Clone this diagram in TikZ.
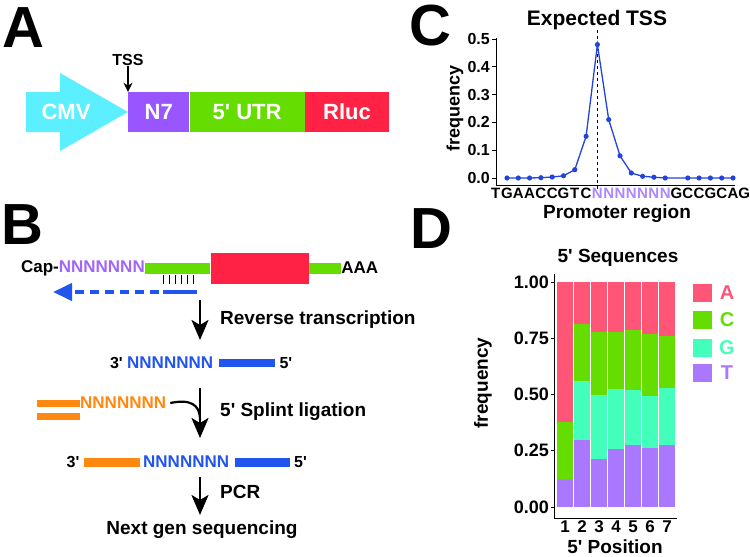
\documentclass[tikz,border=0pt]{standalone}
\usepackage{fontspec}
\setmainfont{Liberation Sans}
\usetikzlibrary{positioning,arrows.meta}
\definecolor{CmvCyan}{HTML}{5BEFFF}
\definecolor{NsevenPurple}{HTML}{9955FF}
\definecolor{UtrGreen}{HTML}{66DD00}
\definecolor{RlucRed}{HTML}{FF2244}
\definecolor{CapPurple}{HTML}{A066F5}
\definecolor{SeqBlue}{HTML}{2255EE}
\definecolor{SplOrange}{HTML}{FF8811}
\definecolor{PlotBlue}{HTML}{2244DD}
\definecolor{NPurple}{HTML}{AA88FF}
\definecolor{BaseA}{HTML}{FF5577}
\definecolor{BaseC}{HTML}{66DD00}
\definecolor{BaseG}{HTML}{44FFBB}
\definecolor{BaseT}{HTML}{AA77FF}
\newcommand{\pr}{\textquotesingle}
\tikzset{
  panel/.style={font=\fontsize{58}{58}\selectfont\bfseries, inner sep=0pt},
  lbl/.style={font=\fontsize{#1}{#1}\selectfont\bfseries, inner sep=0pt},
  seg/.style={rectangle, minimum height=40, inner sep=0pt, text=white,
    font=\fontsize{22}{22}\selectfont\bfseries},
  bar/.style={rectangle, inner sep=0pt, draw=none},
  bigarrow/.style={-{Stealth[length=20pt,width=17pt,inset=5pt]}, line width=2.5pt},
  axisline/.style={line width=1pt}
}
\begin{document}
\begin{tikzpicture}[x=1pt, y=-1pt]
\useasboundingbox (0,0) rectangle (750,557);

% A: construct
\node[panel] (labA) at (23,28) {A};
\fill[CmvCyan] (26,92) -- (60,92) -- (60,73) -- (128,112) -- (60,151) -- (60,132) -- (26,132) -- cycle;
\node[seg] (cmv) at (66,112) {CMV};
\node[seg, fill=NsevenPurple, minimum width=61, anchor=west] (n7) at (128,112) {N7};
\node[seg, fill=UtrGreen, minimum width=115, right=0pt of n7] (utr) {5\pr\ UTR};
\node[seg, fill=RlucRed, minimum width=84, right=0pt of utr] (rluc) {Rluc};
\node[lbl=16] (tss) at (128,60) {TSS};
\draw[-{Stealth[length=9pt,width=9pt]}, line width=1.6pt] (tss) -- (n7.north west);

% B: library prep
\node[panel] (labB) at (22,225) {B};
\node[lbl=17, anchor=east] (cap) at (145,268) {Cap-\textcolor{CapPurple}{NNNNNNN}};
\node[bar, fill=UtrGreen, minimum width=65, minimum height=11, anchor=west] (utr5) at (145,268) {};
\node[bar, fill=RlucRed, minimum width=98, minimum height=31, right=0pt of utr5] (orf) {};
\node[bar, fill=UtrGreen, minimum width=32, minimum height=11, right=0pt of orf] (utr3) {};
\node[lbl=17, right=0pt of utr3] (polyA) {AAA};
\foreach \i in {0,...,5}
  \draw[line width=0.9pt] (163.5+6*\i,275) -- ++(0,9);
\node[bar, fill=SeqBlue, minimum width=34, minimum height=4, anchor=west] (primer) at (163,292) {};
\coordinate (rtend) at (53,292);
\draw[SeqBlue, line width=4pt, dash pattern=on 9pt off 6pt, dash phase=-4pt,
  -{Triangle[length=19pt,width=17pt]}] (primer.west) -- (rtend);

\coordinate (rtA) at (200,300);
\coordinate (rtB) at (200,340);
\draw[bigarrow] (rtA) -- (rtB);
\node[lbl=19, anchor=west] (rtlab) at (220,320) {Reverse transcription};

\node[lbl=17, anchor=west, text=SeqBlue] (cdnaN) at (127,363) {NNNNNNN};
\node[lbl=16, left=4pt of cdnaN] (c3) {3\pr};
\node[bar, fill=SeqBlue, minimum width=56, minimum height=8, anchor=west] (cdna) at (219,363) {};
\node[lbl=16, right=4pt of cdna] (c5) {5\pr};

\node[bar, fill=SplOrange, minimum width=43, minimum height=7, anchor=west] (splA) at (37,403) {};
\node[bar, fill=SplOrange, minimum width=43, minimum height=7, anchor=west] (splB) at (37,416) {};
\node[lbl=17, anchor=west, text=SplOrange] (splN) at (80,403) {NNNNNNN};
\coordinate (ligA) at (200,388);
\coordinate (ligB) at (200,438);
\draw[bigarrow] (ligA) -- (ligB);
\draw[line width=2.2pt] ([xshift=4pt]splN.east) .. controls (190,399) and (200,404) .. (200,420);
\node[lbl=19, anchor=west] (liglab) at (220,412) {5\pr\ Splint ligation};

\node[lbl=16] (p3) at (73,462) {3\pr};
\node[bar, fill=SplOrange, minimum width=56, minimum height=9, anchor=west] (prodOr) at (84,462) {};
\node[lbl=17, anchor=west, text=SeqBlue] (prodN) at (143,462) {NNNNNNN};
\node[bar, fill=SeqBlue, minimum width=55, minimum height=9, anchor=west] (prodBl) at (235,462) {};
\node[lbl=16, anchor=west] (p5) at (294,462) {5\pr};

\coordinate (pcrA) at (200,477);
\coordinate (pcrB) at (200,515);
\draw[bigarrow] (pcrA) -- (pcrB);
\node[lbl=19, anchor=west] (pcrlab) at (220,492) {PCR};
\node[lbl=19] (ngs) at (202,530) {Next gen sequencing};

% C: TSS profile
\node[panel] (labC) at (430,26) {C};
\node[lbl=21] (ctitle) at (597,20) {Expected TSS};
\draw[axisline] (496,38) -- (496,185) -- (735,185);
\foreach \v in {0,...,5} {
  \draw[axisline] (492,178-27.8*\v) -- (496,178-27.8*\v);
  \node[lbl=16, anchor=east] at (490,178-27.8*\v) {0.\v};
}
\draw[axisline] (597.4,185) -- (597.4,189);
\draw[dashed, line width=1pt] (597.4,30) -- (597.4,185);
\draw[PlotBlue, line width=1.3pt] plot coordinates {
  (507,178) (518.3,178) (529.6,178) (540.9,177.7) (552.2,177) (563.5,175.8)
  (574.8,169.7) (586.1,136.3) (597.4,44.6) (608.7,119.6) (620,155.8)
  (631.3,173) (642.6,176.3) (653.9,177.2) (665.2,178) (687.8,178)
  (699.1,178) (710.4,178) (721.7,178) (733,178)};
\foreach \k/\y in {0/178,1/178,2/178,3/177.7,4/177,5/175.8,6/169.7,7/136.3,8/44.6,9/119.6,
  10/155.8,11/173,12/176.3,13/177.2,14/178,16/178,17/178,18/178,19/178,20/178}
  \fill[PlotBlue] (507+11.3*\k,\y) circle (2.6pt);
\foreach \c [count=\i from 0] in {T,G,A,A,C,C,G,T,C}
  \node[lbl=15] at (495.7+11.3*\i,193) {\c};
\foreach \i in {9,...,15}
  \node[lbl=15, text=NPurple] at (495.7+11.3*\i,193) {N};
\foreach \c [count=\i from 16] in {G,C,C,G,C,A,G}
  \node[lbl=15] at (495.7+11.3*\i,193) {\c};
\node[lbl=19] (cxlab) at (617,214) {Promoter region};
\node[lbl=18, rotate=90] (cylab) at (455,108) {frequency};

% D: 5' base composition
\node[panel] (labD) at (431,229) {D};
\node[lbl=19] (dtitle) at (618,258) {5\pr\ Sequences};
\foreach \i/\t/\g/\c in {1/0.126/0.126/0.378, 2/0.30/0.558/0.815, 3/0.215/0.496/0.778,
  4/0.256/0.526/0.778, 5/0.274/0.519/0.788, 6/0.261/0.492/0.767, 7/0.277/0.529/0.759} {
  \fill[BaseT] (557+17*\i-17,507) rectangle ++(15.5,-225*\t);
  \fill[BaseG] (557+17*\i-17,507-225*\t) rectangle (572.5+17*\i-17,507-225*\g);
  \fill[BaseC] (557+17*\i-17,507-225*\g) rectangle (572.5+17*\i-17,507-225*\c);
  \fill[BaseA] (557+17*\i-17,507-225*\c) rectangle (572.5+17*\i-17,282);
  \node[lbl=17] at (565+17*\i-17,527) {\i};
}
\draw[axisline] (554,274) -- (554,518) -- (677,518);
\foreach \v/\t in {0/0.00,0.25/0.25,0.5/0.50,0.75/0.75,1/1.00} {
  \draw[axisline] (551,507-225*\v) -- (554,507-225*\v);
  \node[lbl=18, anchor=east] at (549,507-225*\v) {\t};
}
\node[lbl=19] (dxlab) at (615,547) {5\pr\ Position};
\node[lbl=19, rotate=90] (dylab) at (483,383) {frequency};
\foreach \b/\y in {A/293,C/320,G/348,T/373} {
  \fill[Base\b] (693,\y-9) rectangle (712,\y+9);
  \node[lbl=20, text=Base\b] at (727,\y) {\b};
}
\end{tikzpicture}
\end{document}
